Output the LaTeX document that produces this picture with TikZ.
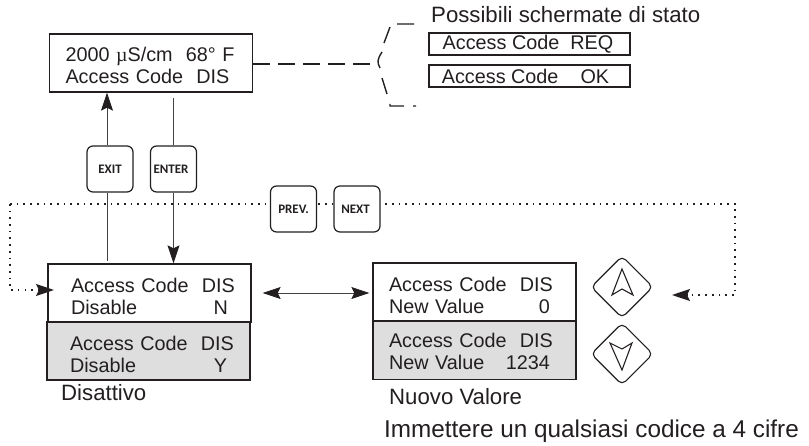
\documentclass[tikz,border=0pt]{standalone}
\usepackage{fontspec}
\setmainfont{Liberation Sans}
\newfontfamily\keyfont{Carlito}
\newfontfamily\unitfont{Liberation Serif}
\usetikzlibrary{arrows.meta, shapes.geometric}
\definecolor{inkdark}{HTML}{231F20}
\definecolor{screengray}{HTML}{DEDEDE}
\newcommand{\screenrow}[3]{\hspace*{#1pt}\makebox[161pt][l]{#2\hfill #3}}
\tikzset{
  screen/.style={draw=inkdark, line width=1.3pt, text=inkdark, minimum width=203pt, minimum height=58pt,
    text width=203pt, inner xsep=0pt, inner ysep=0pt, align=left, font=\fontsize{19.8}{22}\selectfont},
  textdown/.style={execute at begin node={\rule{0pt}{#1pt}}},
  statusbox/.style={draw=inkdark, line width=1.2pt, text=inkdark, minimum width=201pt, minimum height=22pt,
    inner sep=0pt, font=\fontsize{19.8}{22}\selectfont},
  keybox/.style={draw=inkdark, line width=1.2pt, fill=white, rounded corners=6pt, minimum size=46pt,
    inner sep=0pt, text=inkdark, font=\keyfont\bfseries\fontsize{13}{13}\selectfont},
  arrowkey/.style={diamond, draw=inkdark, line width=1.1pt, rounded corners=5pt, minimum size=62pt, inner sep=0pt},
  caption/.style={anchor=base west, inner sep=0pt, text=inkdark, font=\fontsize{22.2}{24}\selectfont},
  link/.style={draw=inkdark!85, line width=0.9pt},
  tip/.style={-{Stealth[length=18pt, width=12pt, inset=3pt, inkdark]}},
  tiptwo/.style={{Stealth[length=18pt, width=12pt, inset=3pt, inkdark]}-{Stealth[length=18pt, width=12pt, inset=3pt, inkdark]}},
  dotline/.style={draw=inkdark, line width=1.5pt, dash pattern=on 1.7pt off 5pt},
  dashline/.style={draw=inkdark, line width=1.4pt, dash pattern=on 17pt off 8pt},
  bracketline/.style={draw=inkdark, line width=1.4pt},
}
\begin{document}
\begin{tikzpicture}[x=1pt, y=-1pt]
  \useasboundingbox (0,0) rectangle (809,446);
  % main screen and status screens
  \node[screen, textdown=18.4] (mainscreen) at (151,63) {\hspace*{16pt}2000 {\unitfont µ}S/cm~~68° F\\\hspace*{16pt}Access Code~~DIS};
  \node[caption] (statustitle) at (431,23) {Possibili schermate di stato};
  \node[statusbox] (statusreq) at (529.5,44) {\hspace*{-3pt}Access Code~~REQ};
  \node[statusbox] (statusok) at (529.5,76) {\hspace*{-8pt}Access Code~~~~OK};
  % screens below
  \node[screen, textdown=21.4] (disableno) at (149.5,293) {\screenrow{23}{Access Code~~DIS}{}\\\screenrow{23}{Disable}{N\kern4pt}};
  \node[screen, textdown=21.4, fill=screengray] (disableyes) at (148.5,351) {\screenrow{23}{Access Code~~DIS}{}\\\screenrow{23}{Disable}{Y\kern4pt}};
  \node[screen, textdown=20.4] (valuezero) at (474.5,292) {\screenrow{16}{Access Code~~DIS}{}\\\screenrow{16}{New Value}{0}};
  \node[screen, textdown=15.4, fill=screengray] (valuenew) at (474.5,350.5) {\screenrow{16}{Access Code~~DIS}{}\\\screenrow{16}{New Value}{1234}};
  \node[caption] (disabletitle) at (61,400) {Disattivo};
  \node[caption] (valuetitle) at (389,405) {Nuovo Valore};
  \node[caption, font=\fontsize{24.3}{26}\selectfont] (valuenote) at (384,437) {Immettere un qualsiasi codice a 4 cifre};
  % free ends of the dotted and dashed lines
  \coordinate (dotleft) at (10,204);
  \coordinate (dotleftlow) at (10,290);
  \coordinate (dotright) at (735,204);
  \coordinate (dotrightlow) at (735,295);
  \coordinate (dotlefttip) at (54,290);
  \coordinate (dotrighttip) at (672,295);
  \coordinate (bracemid) at (376,64);
  % dotted loop, behind the keys
  \draw[dotline, tip] (dotleft) -- (dotleftlow) -- (dotlefttip);
  \draw[dotline, tip] (dotleft) -- (dotright) -- (dotrightlow) -- (dotrighttip);
  % keys
  \node[keybox] (keyexit) at (110,169) {EXIT};
  \node[keybox] (keyenter) at (173.5,169) {\hspace*{-5pt}ENTER};
  \node[keybox] (keyprev) at (293.5,209) {PREV.};
  \node[keybox] (keynext) at (357,209) {\hspace*{-3pt}NEXT};
  \node[arrowkey] (keyup) at (622,287) {};
  \node[arrowkey] (keydown) at (622,354) {};
  \draw[draw=inkdark, line width=1.1pt, shift={(keyup.center)}] (0,-18) -- (11,8) -- (0,2) -- (-10,8) -- cycle;
  \draw[draw=inkdark, line width=1.1pt, shift={(keydown.center)}] (0,16) -- (10,-11) -- (0,-5) -- (-12,-11) -- cycle;
  % connectors
  \draw[link, tip] ([xshift=-3pt]keyexit.north) -- ([xshift=-3pt]keyexit.north |- mainscreen.south);
  \draw[link, shorten >=2pt] ([xshift=-3pt]keyexit.south) -- ([xshift=-3pt]keyexit.south |- disableno.north);
  \draw[link, shorten >=5pt] (keyenter.north) -- (keyenter.north |- mainscreen.south);
  \draw[link, tip] (keyenter.south) -- (keyenter.south |- disableno.north);
  \draw[link, tiptwo, shorten <=11pt, shorten >=3pt] (disableno.east) -- (disableno.east -| valuezero.west);
  % dashed bracket
  \draw[dashline] (mainscreen.east |- bracemid) -- (bracemid);
  \draw[bracketline] (397,24) -- (414,24) (390,27) -- (384,43)
    (382,52) .. controls (377,60) and (377,62) .. (380,68)
    (382,78) -- (387,94) (390,104) -- (390,106) -- (404,106) (413,106) -- (416,106);
\end{tikzpicture}
\end{document}
